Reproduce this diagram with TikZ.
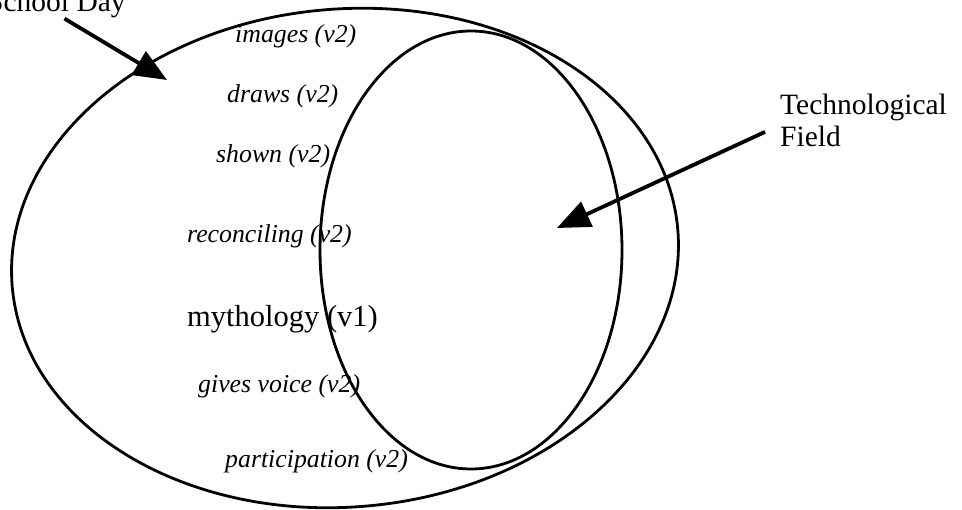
\documentclass[tikz,border=0pt]{standalone}
\usepackage{fontspec}
\setmainfont{Liberation Serif}
\usetikzlibrary{arrows.meta}

\begin{document}
\begin{tikzpicture}[
    x=1pt, y=-1pt,
    >={Triangle[length=33pt, width=27pt]},
    field/.style={line width=2.8pt},
    pointer/.style={->, line width=3.8pt},
    term/.style={anchor=base west, inner sep=0pt, font=\fontsize{25.8}{30}\selectfont\itshape},
    title/.style={anchor=base west, inner sep=0pt, align=left, font=\fontsize{29.5}{32}\selectfont}
]
\useasboundingbox (0,0) rectangle (962,510);
\clip (0,0) rectangle (962,510);
% the two fields
\draw[field, rotate around={5:(345,258)}] (345,258) ellipse [x radius=334, y radius=249];
\draw[field] (471,250) ellipse [x radius=151, y radius=219];
% terms
\node[term] (images) at (235,43) {images (v2)};
\node[term] (draws) at (227,103) {draws (v2)};
\node[term] (shown) at (216,163) {shown (v2)};
\node[term] (reconciling) at (187,243) {reconciling (v2)};
\node[title, font=\fontsize{30.5}{32}\selectfont] (mythology) at (187,327) {mythology (v1)};
\node[term] (voice) at (198,393) {gives voice (v2)};
\node[term] (participation) at (225,468) {participation (v2)};
% labels and pointers
\node[title] (school) at (-13,12) {School Day};
\node[title] (tech) at (780,147) {Technological\\Field};
\coordinate (schoolTip) at (167,80);
\coordinate (techTip) at (557,228);
\draw[pointer] ([xshift=8pt]school.south) -- (schoolTip);
\draw[pointer] ([shift={(-15,11)}]tech.west) -- (techTip);
\end{tikzpicture}
\end{document}
